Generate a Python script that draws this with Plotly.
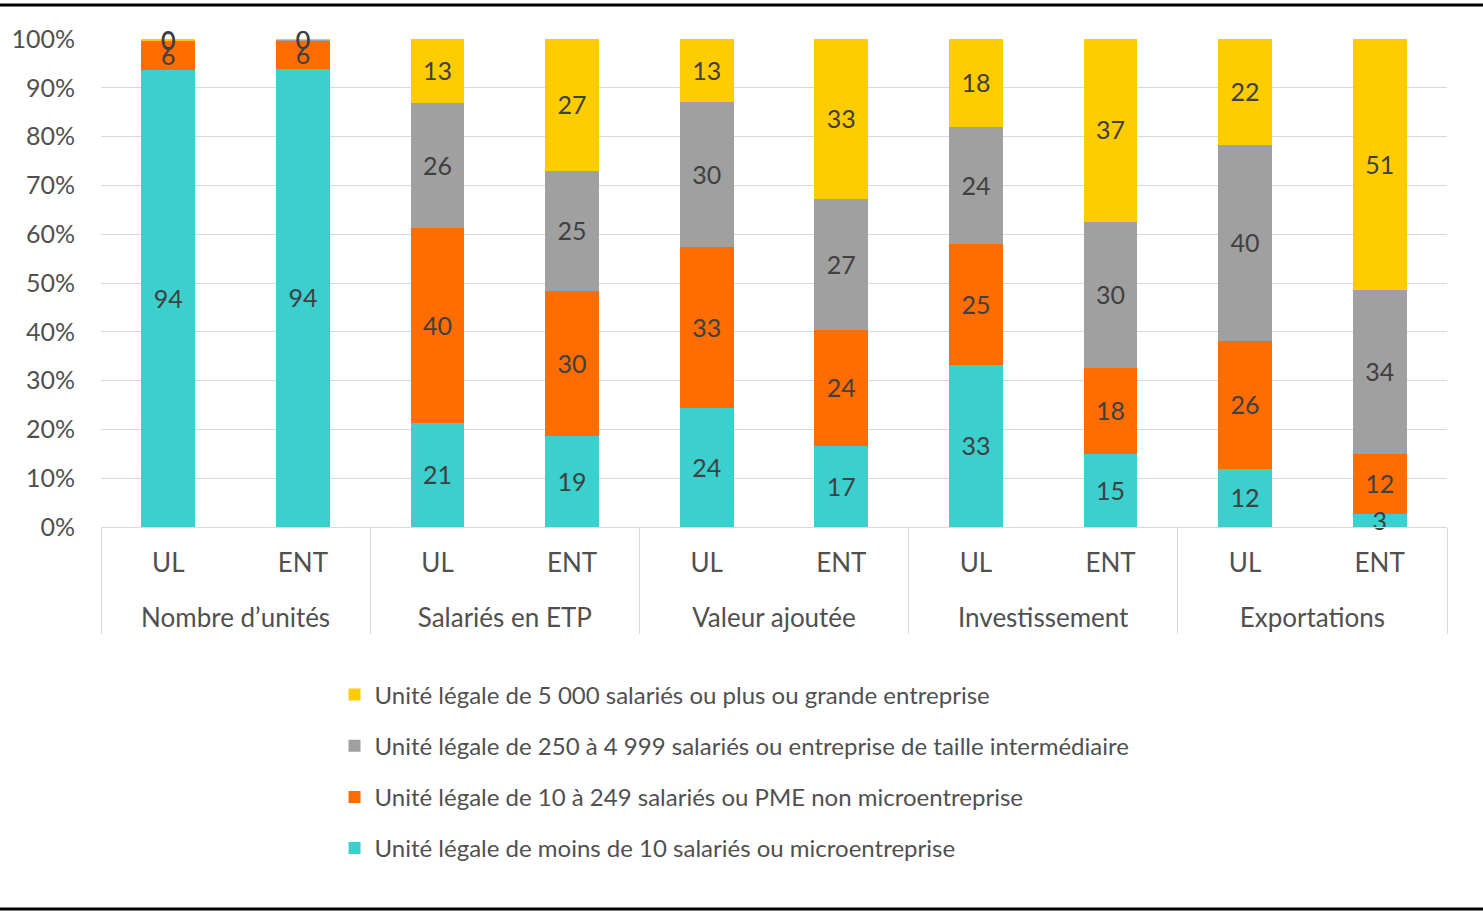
import plotly.graph_objects as go

indicators = ["Nombre d’unités", "Salariés en ETP", "Valeur ajoutée", "Investissement", "Exportations"]
levels = ["UL", "ENT"]

series_names = [
    "Unité légale de moins de 10 salariés ou microentreprise",
    "Unité légale de 10 à 249 salariés ou PME non microentreprise",
    "Unité légale de 250 à 4 999 salariés ou entreprise de taille intermédiaire",
    "Unité légale de 5 000 salariés ou plus ou grande entreprise",
]
micro = [93.6, 93.9, 21.3, 18.6, 24.4, 16.6, 33.2, 15.0, 11.9, 2.7]
pme = [6.0, 5.8, 40.0, 29.8, 33.0, 23.8, 24.8, 17.6, 26.2, 12.3]
eti = [0.1, 0.1, 25.6, 24.6, 29.6, 26.8, 24.0, 30.0, 40.2, 33.6]
ge = [0.3, 0.2, 13.1, 27.0, 13.0, 32.8, 18.0, 37.4, 21.7, 51.4]
colors = ["#3BCFCE", "#FF6D00", "#A0A0A0", "#FFCC00"]

xg = [g for g in indicators for _ in levels]
xl = [l + "<br> " for _ in indicators for l in levels]

fig = go.Figure()
base = [0.0] * len(xg)
label_x, label_y, label_t = [], [], []
for k, (name, vals, col) in enumerate(zip(series_names, [micro, pme, eti, ge], colors)):
    fig.add_trace(go.Bar(x=[xg, xl], y=vals, name=name, marker_color=col,
                         marker_line_width=0, legendgroup=name, legendrank=4 - k,
                         hoverinfo="skip"))
    for i, v in enumerate(vals):
        label_x.append(i)
        label_y.append(base[i] + v / 2)
        label_t.append(str(int(round(v))))
        base[i] += v

fig.add_trace(go.Scatter(
    x=[[xg[i] for i in label_x], [xl[i] for i in label_x]], y=label_y, text=label_t,
    mode="text", textposition="middle center", yaxis="y2", cliponaxis=False,
    textfont=dict(family="Lato", size=25, color="#404040"),
    showlegend=False, hoverinfo="skip"))

fig.update_layout(
    width=1483, height=912,
    margin=dict(l=101, r=36, t=39, b=385),
    barmode="stack", bargap=0.6,
    plot_bgcolor="white", paper_bgcolor="white",
    font=dict(family="Lato", size=26, color="#505050"),
    legend=dict(x=0.1735, y=-0.298, xanchor="left", yanchor="top",
                traceorder="grouped", tracegroupgap=17,
                font=dict(family="Lato", size=24, color="#505050")),
    yaxis2=dict(overlaying="y", range=[0.6, 100.6], visible=False, showgrid=False),
    shapes=[
        dict(type="line", xref="paper", yref="paper", x0=-0.08, x1=1.03, y0=1.0697, y1=1.0697,
             line=dict(color="black", width=3)),
        dict(type="line", xref="paper", yref="paper", x0=-0.08, x1=1.03, y0=-0.783, y1=-0.783,
             line=dict(color="black", width=3)),
    ],
)
fig.update_layout(yaxis=dict(range=[0, 100], dtick=10, ticksuffix="%", showgrid=True, gridcolor="#D9D9D9",
                             gridwidth=1, zeroline=False, showline=False, ticks="", ticklabelstandoff=25,
                             tickfont=dict(family="Lato", size=25, color="#505050")))
fig.update_xaxes(type="multicategory", showline=True, linecolor="#D9D9D9", linewidth=1,
                 showdividers=True, dividercolor="#D9D9D9", dividerwidth=1,
                 ticklabelstandoff=13,
                 tickfont=dict(family="Lato", size=26, color="#505050"))

fig.write_html("out.html", config={"displayModeBar": False},
               post_script="document.body.style.margin='0';")
